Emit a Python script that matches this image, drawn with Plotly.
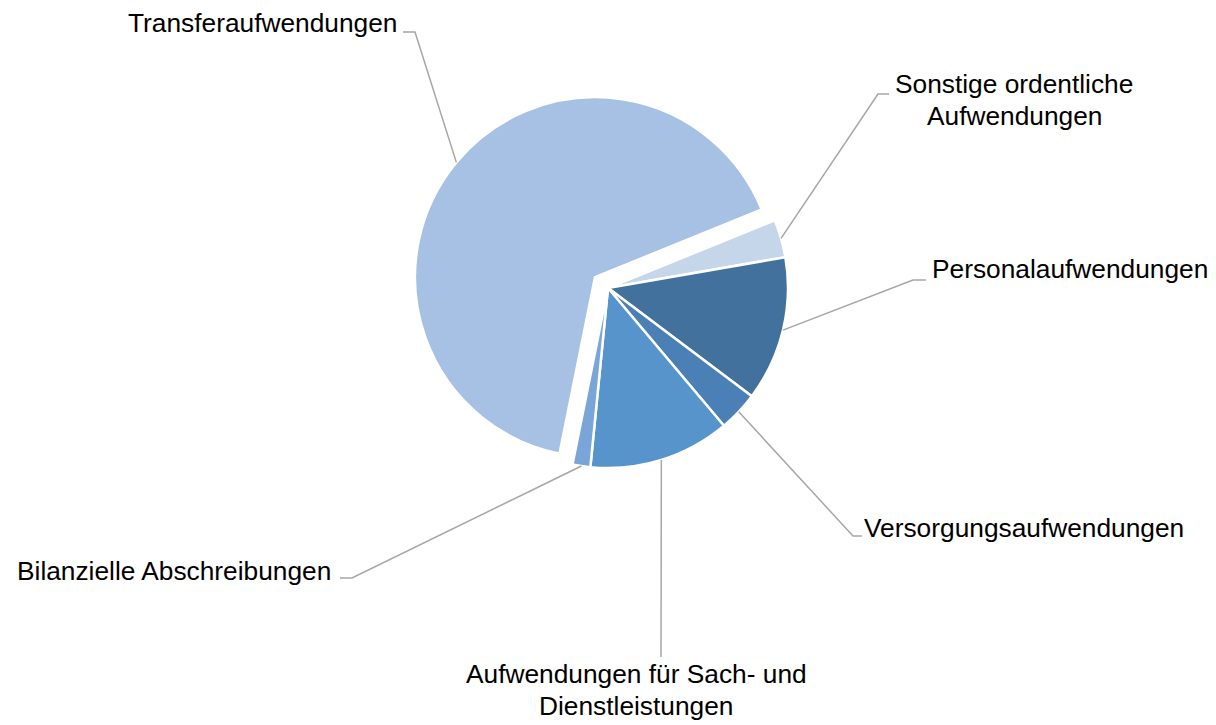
import math
import plotly.graph_objects as go

# ---- data ----
labels = [
    "Sonstige ordentliche Aufwendungen",
    "Personalaufwendungen",
    "Versorgungsaufwendungen",
    "Aufwendungen für Sach- und Dienstleistungen",
    "Bilanzielle Abschreibungen",
    "Transferaufwendungen",
]
values = [3.4, 13.0, 3.6, 12.7, 1.6, 65.7]
label_lines = [
    ["Sonstige ordentliche", "Aufwendungen"],
    ["Personalaufwendungen"],
    ["Versorgungsaufwendungen"],
    ["Aufwendungen für Sach- und", "Dienstleistungen"],
    ["Bilanzielle Abschreibungen"],
    ["Transferaufwendungen"],
]

# ---- styles / layout ----
colors = ["#C5D5EA", "#41719C", "#4A80B5", "#5694CB", "#7AA5D9", "#A6C1E3"]
pulls = [0, 0, 0, 0, 0, 0.094]

W, H = 1216, 725
OFF = 8  # page body margin offset
CX, CY, R = 608, 288, 180
ROT = 67.9
FONT = 26.3
LINE_GAP = 32

# label placement: (elbow point, stub end, text anchor x, first line centre y, xanchor)
label_layout = [
    ((878, 94), (889, 94), 1014, 84, "center"),
    ((913, 280), (926, 280), 930, 269, "left"),
    ((853, 536), (862, 536), 862, 527.5, "left"),
    ((661, 657), (661, 657), 636, 674, "center"),
    ((352, 578), (340, 578), 333, 571, "right"),
    ((415, 32), (403, 32), 399, 23.3, "right"),
]


def px(x):
    return (x - OFF) / W


def py(y):
    return 1 - (y - OFF) / H


box = 2 * R * (1 + max(pulls))
dom_x = [px(CX - box / 2), px(CX + box / 2)]
dom_y = [py(CY + box / 2), py(CY - box / 2)]

fig = go.Figure(
    go.Pie(
        labels=labels,
        values=values,
        sort=False,
        direction="clockwise",
        rotation=ROT,
        pull=pulls,
        marker=dict(colors=colors, line=dict(color="white", width=2.5)),
        textinfo="none",
        hoverinfo="label+percent",
        showlegend=False,
        domain=dict(x=dom_x, y=dom_y),
    )
)

total = sum(values)
cum = ROT
shapes = []
annotations = []
for i, v in enumerate(values):
    span = v / total * 360
    mid = math.radians(cum + span / 2)
    cum += span
    d = R * (1 + pulls[i])
    sx = CX + d * math.sin(mid)
    sy = CY - d * math.cos(mid)
    (ex, ey), (tx, ty), ax, ay, xa = label_layout[i]
    path = f"M {px(sx)} {py(sy)} L {px(ex)} {py(ey)} L {px(tx)} {py(ty)}"
    shapes.append(dict(type="path", xref="paper", yref="paper", path=path,
                       line=dict(color="#A6A6A6", width=1.5)))
    for j, line in enumerate(label_lines[i]):
        annotations.append(dict(
            text=line, x=px(ax), y=py(ay + j * LINE_GAP), xref="paper", yref="paper",
            xanchor=xa, yanchor="middle", showarrow=False,
            font=dict(family="Arial, Liberation Sans, sans-serif", size=FONT, color="#000000"),
        ))

fig.update_layout(
    width=W, height=H,
    margin=dict(l=0, r=0, t=0, b=0),
    paper_bgcolor="white", plot_bgcolor="white",
    shapes=shapes, annotations=annotations,
)

fig.write_html("out.html")
